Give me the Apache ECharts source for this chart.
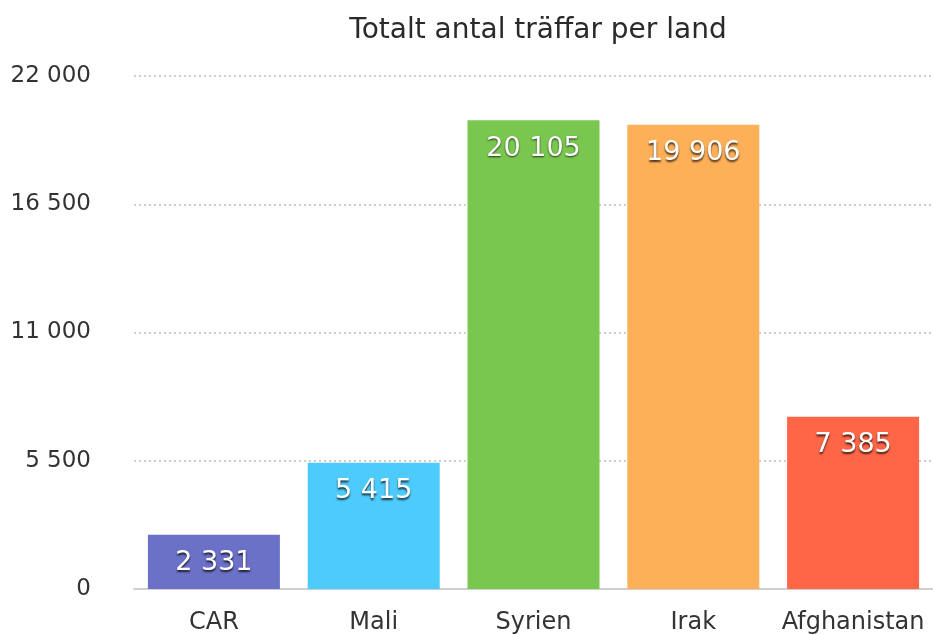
<!DOCTYPE html>
<html lang="sv">
<head>
    <meta charset="UTF-8">
    <title>Totalt antal träffar per land</title>
    <script src="https://cdn.jsdelivr.net/npm/echarts@6/dist/echarts.min.js"></script>
    <style>
        html, body { margin: 0; padding: 0; background: #fff; }
        #chart { width: 933px; height: 635px; }
    </style>
</head>
<body>
<div id="chart"></div>
<script>
    var countries = ['CAR', 'Mali', 'Syrien', 'Irak', 'Afghanistan'];
    var hits = [2331, 5415, 20105, 19906, 7385];
    var barColors = ['#6c71c8', '#4dcbfd', '#7ac74f', '#feb058', '#ff6647'];
    var yTicks = [0, 5500, 11000, 16500, 22000];

    // "20 105" style thousands separator
    function fmt(v) {
        return String(v).replace(/\B(?=(\d{3})+(?!\d))/g, ' ');
    }

    var font = 'DejaVu Sans';
    var chart = echarts.init(document.getElementById('chart'));
    chart.setOption({
        animation: false,
        title: {
            text: 'Totalt antal träffar per land',
            left: 533, top: 12, textAlign: 'center',
            textStyle: { fontFamily: font, fontSize: 28, fontWeight: 'normal', color: '#2a2a2a' }
        },
        grid: { left: 134, right: 0, top: 76, bottom: 45 },
        xAxis: {
            type: 'category',
            data: countries,
            axisLine: { lineStyle: { color: '#cfcfcf', width: 2 } },
            axisTick: { show: false },
            axisLabel: { interval: 0, margin: 22, fontFamily: font, fontSize: 24, color: '#333' }
        },
        yAxis: {
            type: 'value',
            min: yTicks[0], max: yTicks[yTicks.length - 1], interval: 5500,
            axisLine: { show: false },
            axisTick: { show: false },
            axisLabel: { margin: 43, fontFamily: font, fontSize: 23, color: '#333', formatter: fmt },
            splitLine: { lineStyle: { type: [2, 3], color: '#bdbdbd', width: 1.5 } }
        },
        series: [{
            type: 'bar',
            barWidth: 132,
            data: hits.map(function (v, i) {
                return { value: v, itemStyle: { color: barColors[i] } };
            }),
            label: {
                show: true,
                position: 'insideTop',
                distance: 15,
                formatter: function (p) { return fmt(p.value); },
                fontFamily: font, fontSize: 27, color: '#fff',
                textShadowColor: 'rgba(0,0,0,0.75)', textShadowBlur: 2, textShadowOffsetY: 1.5
            }
        }]
    });
</script>
</body>
</html>
